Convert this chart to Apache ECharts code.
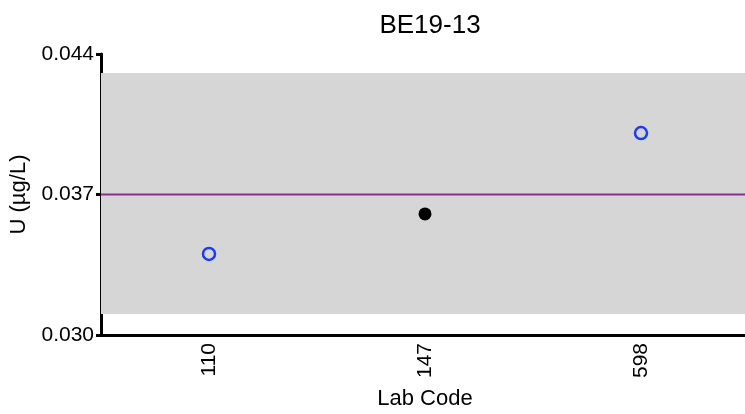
<!DOCTYPE html>
<html>
<head>
<meta charset="utf-8">
<script src="https://cdn.jsdelivr.net/npm/echarts@6/dist/echarts.min.js"></script>
<style>html,body{margin:0;padding:0;background:#fff;overflow:hidden}#c{width:745px;height:414px}</style>
</head>
<body>
<div id="c"></div>
<script>
const labCodes = ['110', '147', '598'];
const values = [0.03404, 0.03603, 0.04006];
const openMarker = [true, false, true];
const refValue = [0.037];
const band = [0.03105, 0.04305];
const yTicks = [0.030, 0.037, 0.044];

const chart = echarts.init(document.getElementById('c'), null, {renderer: 'canvas'});
const font = 'Liberation Sans, Arial, sans-serif';
const data = values.map((v, i) => ({
  value: v,
  symbolSize: openMarker[i] ? 12 : 13,
  itemStyle: openMarker[i]
    ? {color: 'rgba(255,255,255,0)', borderColor: '#1a3cff', borderWidth: 2.5, opacity: 1}
    : {color: '#000', borderColor: '#000', borderWidth: 0, opacity: 1}
}));
chart.setOption({
  animation: false,
  backgroundColor: '#fff',
  title: {text: 'BE19-13', left: 425, top: 8, textAlign: 'center',
    textStyle: {fontFamily: font, fontSize: 26, fontWeight: 'normal', color: '#000'}},
  grid: {left: 101, top: 54, width: 648, height: 281, containLabel: false, outerBoundsMode: 'none'},
  xAxis: [{
    type: 'category', data: labCodes, boundaryGap: true,
    name: 'Lab Code', nameLocation: 'middle', nameGap: 53,
    nameTextStyle: {fontFamily: font, fontSize: 22, color: '#000'},
    axisLine: {lineStyle: {color: '#000', width: 3}},
    axisTick: {alignWithLabel: true, length: 6, lineStyle: {color: '#000', width: 3}},
    axisLabel: {rotate: 90, margin: 8, fontFamily: font, fontSize: 21, color: '#000'},
    splitLine: {show: false}
  }, {
    type: 'value', min: 0, max: 1, show: false, position: 'top'
  }],
  yAxis: {
    type: 'value', min: yTicks[0], max: yTicks[yTicks.length - 1], interval: yTicks[1] - yTicks[0],
    name: 'U (µg/L)', nameLocation: 'middle', nameGap: 71,
    nameTextStyle: {fontFamily: font, fontSize: 22, color: '#000'},
    axisLine: {show: true, lineStyle: {color: '#000', width: 3}},
    axisTick: {show: true, length: 5, lineStyle: {color: '#000', width: 3}},
    axisLabel: {margin: 7, fontFamily: font, fontSize: 21, color: '#000',
      formatter: v => v.toFixed(3)},
    splitLine: {show: false}
  },
  series: [{
    type: 'line', xAxisIndex: 1, symbol: 'none', silent: true, z: 3,
    lineStyle: {color: '#912a91', width: 2},
    data: [[0, refValue[0]], [1, refValue[0]]]
  }, {
    type: 'scatter', symbol: 'circle', data: data, z: 5,
    markArea: {silent: true, itemStyle: {color: '#d6d6d6'},
      data: [[{yAxis: band[0]}, {yAxis: band[1]}]]}
  }]
});
</script>
</body>
</html>
